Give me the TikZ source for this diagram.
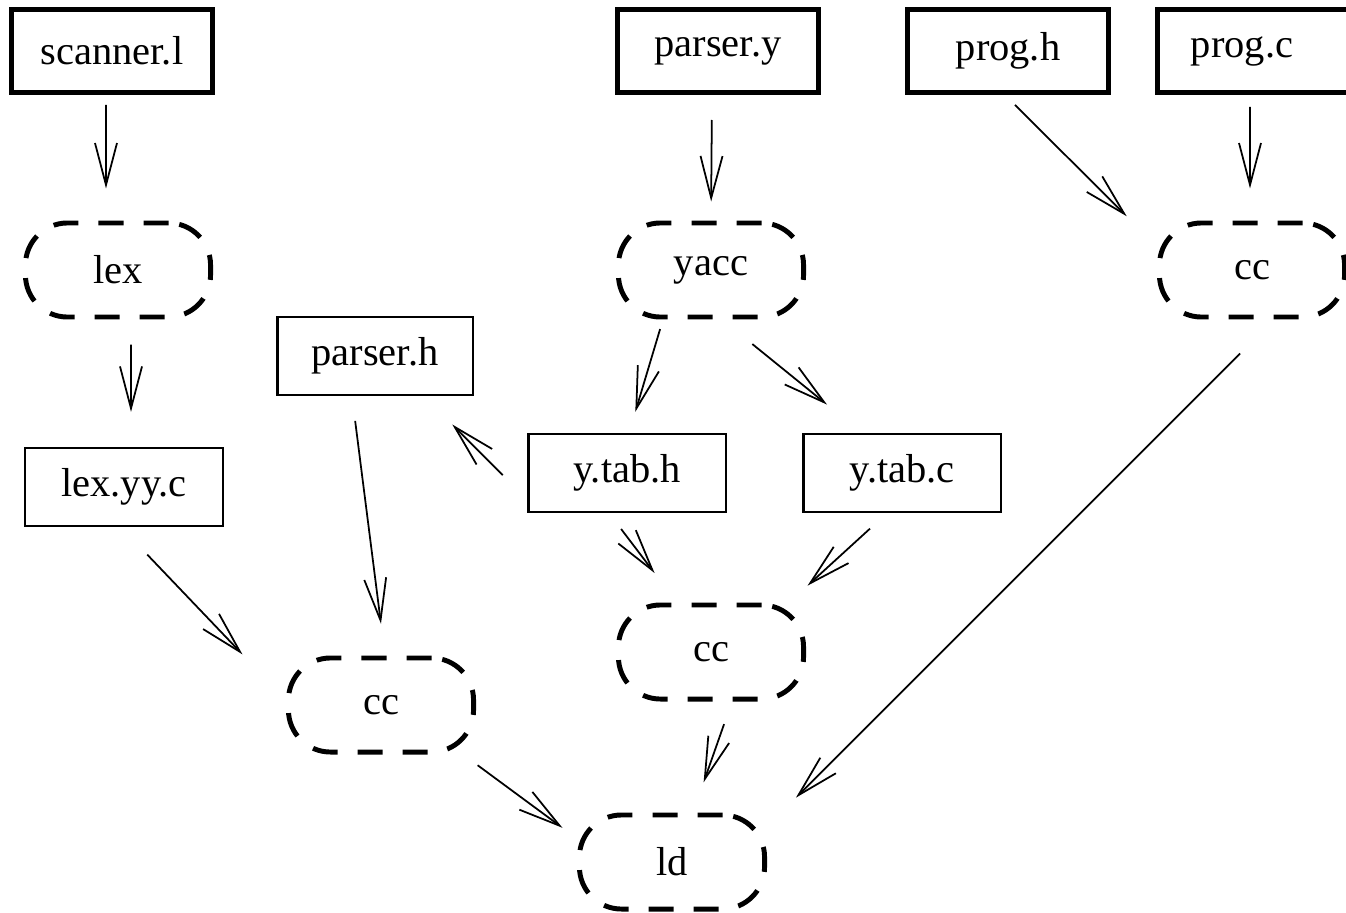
\documentclass[tikz,border=0pt]{standalone}
\usepackage{fontspec}
\setmainfont{Liberation Serif}
\usetikzlibrary{arrows.meta}

\tikzset{
  src/.style={draw,line width=1.4pt,minimum width=2cm,minimum height=0.83cm,inner sep=0pt},
  gen/.style={draw,line width=0.6pt,minimum width=1.97cm,minimum height=0.78cm,inner sep=0pt},
  tool/.style={draw,line width=1.4pt,dash pattern=on 0.25cm off 0.2cm,rounded corners=0.42cm,
    minimum width=1.85cm,minimum height=0.94cm,inner sep=0pt},
  dep/.style={line width=0.5pt,-{Straight Barb[length=0.42cm,width=0.22cm]}},
}

\begin{document}
\begin{tikzpicture}[x=0.01cm,y=-0.01cm,font=\fontsize{11.5}{14}\selectfont]
\useasboundingbox (0,0) rectangle (1346,912);
% sources
\node[src] (scanner) at (112,51) {scanner.l};
\node[src] (parsery) at (718,51) {parser.y};
\node[src] (progh) at (1008,51) {prog.h};
\node[src,minimum width=2.4cm] (progc) at (1278,51) {prog.c\hspace*{0.72cm}};
% tools
\node[tool] (lex) at (118,270) {lex};
\node[tool] (yacc) at (711,270) {yacc};
\node[tool] (cctr) at (1252,270) {cc};
\node[tool] (ccmid) at (711,652) {cc};
\node[tool] (ccleft) at (381,705) {cc};
\node[tool] (ld) at (672,862) {ld};
% generated files
\node[gen,minimum width=1.95cm] (parserh) at (375,356) {parser.h};
\node[gen] (lexyy) at (124,487) {lex.yy.c};
\node[gen] (ytabh) at (627,473) {y.tab.h};
\node[gen] (ytabc) at (902,473) {y.tab.c};
% dependencies
\draw[dep,shorten <=0.1cm,shorten >=0.32cm] ([xshift=-0.06cm]scanner.south) -- ([xshift=-0.12cm]lex.north);
\draw[dep,shorten <=0.25cm,shorten >=0.19cm] ([xshift=-0.06cm]parsery.south) -- (yacc.north);
\draw[dep,shorten <=0.14cm,shorten >=0.06cm] ([xshift=-0.03cm]progh.south) -- ([xshift=-0.26cm]cctr.north west);
\draw[dep,shorten <=0.12cm,shorten >=0.32cm] ([xshift=-0.28cm]progc.south) -- ([xshift=-0.02cm]cctr.north);
\draw[dep,shorten <=0.25cm,shorten >=0.35cm] ([xshift=0.13cm]lex.south) -- ([xshift=0.07cm]lexyy.north);
\draw[dep,shorten <=0.1cm,shorten >=0.22cm] ([xshift=-0.48cm]yacc.south) -- ([xshift=0.02cm]ytabh.north);
\draw[dep,shorten <=0.39cm,shorten >=0.45cm] ([xshift=0.11cm]yacc.south) -- ([xshift=-0.4cm]ytabc.north);
\draw[dep,shorten <=0.35cm,shorten >=0.4cm] ([yshift=-0.27cm]ytabh.west) -- ([xshift=0.49cm]parserh.south);
\draw[dep,shorten <=0.25cm,shorten >=0.32cm] ([xshift=-0.23cm]parserh.south) -- ([xshift=0.04cm]ccleft.north);
\draw[dep,shorten <=0.38cm,shorten >=0.63cm] ([xshift=-0.03cm]lexyy.south) -- ([yshift=0.05cm]ccleft.west);
\draw[dep,shorten <=0.2cm,shorten >=0.37cm] ([xshift=-0.18cm]ytabh.south) -- ([xshift=-0.34cm]ccmid.north);
\draw[dep,shorten <=0.23cm,shorten >=0.25cm] ([xshift=-0.15cm]ytabc.south) -- ([xshift=0.78cm]ccmid.north);
\draw[dep,shorten <=0.48cm,shorten >=0.21cm] ([xshift=0.22cm]cctr.south) -- ([xshift=1.09cm]ld.north);
\draw[dep,shorten <=0.24cm,shorten >=0.32cm] ([xshift=0.21cm]ccmid.south) -- ([xshift=0.21cm]ld.north);
\draw[dep,shorten <=0.02cm,shorten >=0.18cm] ([yshift=-0.59cm]ccleft.east) -- ([yshift=0.235cm]ld.west);
\end{tikzpicture}
\end{document}
